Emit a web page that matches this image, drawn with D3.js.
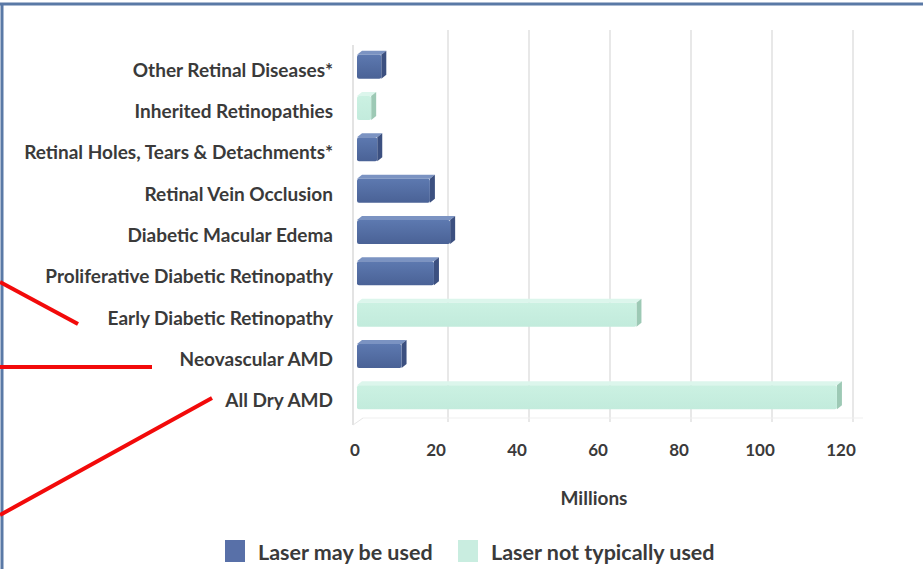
<!DOCTYPE html>
<html><head><meta charset="utf-8">
<script src="https://cdn.jsdelivr.net/npm/d3@7"></script>
<style>body{margin:0;background:#fff}svg{display:block}</style>
</head><body>
<svg id="c" width="923" height="569"></svg>
<script>
const categories = ["Other Retinal Diseases*","Inherited Retinopathies","Retinal Holes, Tears & Detachments*","Retinal Vein Occlusion","Diabetic Macular Edema","Proliferative Diabetic Retinopathy","Early Diabetic Retinopathy","Neovascular AMD","All Dry AMD"];
const values = [6, 3.5, 5, 18, 23, 19, 69, 11, 118.5];
const laserUsed = [true, false, true, true, true, true, false, true, false];
const tickValues = [0, 20, 40, 60, 80, 100, 120];
const seriesNames = ["Laser may be used", "Laser not typically used"];
const axisTitle = "Millions";

const svg = d3.select("#c");
const font = "Lato, 'Open Sans', sans-serif";
const x = d3.scaleLinear().domain([0,120]).range([357, 843]);
const y = d3.scaleBand().domain(categories).range([43, 415]).paddingInner(0.42).paddingOuter(0.21);
const dx = 10;

// frame
svg.append("line").attr("x1",0).attr("x2",923).attr("y1",4).attr("y2",4).attr("stroke","#5a79a6").attr("stroke-width",3);
svg.append("line").attr("x1",2).attr("x2",2).attr("y1",3).attr("y2",569).attr("stroke","#5a79a6").attr("stroke-width",3);

// back wall gridlines
svg.append("g").selectAll("line").data(tickValues.slice(1)).join("line")
  .attr("x1",d=>x(d)+dx).attr("x2",d=>x(d)+dx).attr("y1",30).attr("y2",422)
  .attr("stroke","#dcdcdc").attr("stroke-width",1.3);
// left axis
svg.append("line").attr("x1",353).attr("x2",353).attr("y1",45).attr("y2",425).attr("stroke","#d4d4d4").attr("stroke-width",1.3);
svg.append("line").attr("x1",353).attr("x2",363).attr("y1",425).attr("y2",418).attr("stroke","#e6e6e6");
svg.append("line").attr("x1",363).attr("x2",863).attr("y1",418).attr("y2",418).attr("stroke","#efefef");

const defs = svg.append("defs");
function grad(id, c1, c2){
  const g = defs.append("linearGradient").attr("id",id).attr("x1",0).attr("x2",0).attr("y1",0).attr("y2",1);
  g.append("stop").attr("offset","0").attr("stop-color",c1);
  g.append("stop").attr("offset","1").attr("stop-color",c2);
}
grad("gb","#5d79b0","#4a6296");
grad("gt","#cbf1e2","#c2ebdc");

const bars = svg.append("g").selectAll("g").data(categories.map((c,i)=>({c,v:values[i],u:laserUsed[i]}))).join("g");
const bh = y.bandwidth();
const sd = 5, sdy = -4;
bars.each(function(d){
  const g = d3.select(this);
  const x0 = x(0), x1 = x(d.v), y0 = y(d.c)+3, y1 = y0+bh;
  const front = d.u ? "url(#gb)" : "url(#gt)";
  const top = d.u ? "#7b93c2" : "#dcf6ec";
  const side = d.u ? "#3c5080" : "#9dc9b5";
  g.append("path").attr("d",`M${x0},${y0}L${x0+sd},${y0+sdy}L${x1+sd},${y0+sdy}L${x1},${y0}Z`).attr("fill",top);
  g.append("path").attr("d",`M${x1},${y0}L${x1+sd},${y0+sdy}L${x1+sd},${y1+sdy}L${x1},${y1}Z`).attr("fill",side);
  g.append("rect").attr("x",x0).attr("y",y0).attr("width",x1-x0).attr("height",bh).attr("fill",front).attr("rx",2);
});

// category labels
svg.append("g").selectAll("text").data(categories).join("text")
  .attr("x",333).attr("y",d=>y(d)+bh/2+8).attr("text-anchor","end").attr("dominant-baseline","middle")
  .attr("font-family",font).attr("font-weight","bold").attr("font-size",19).attr("fill","#3a3a3a").text(d=>d);

// x tick labels
svg.append("g").selectAll("text").data(tickValues).join("text")
  .attr("x",d=>x(d)-2).attr("y",452).attr("text-anchor","middle").attr("dominant-baseline","middle")
  .attr("font-family",font).attr("font-weight","bold").attr("font-size",17).attr("fill","#3a3a3a").text(d=>d);
svg.append("text").attr("x",594).attr("y",500).attr("text-anchor","middle").attr("dominant-baseline","middle")
  .attr("font-family",font).attr("font-weight","bold").attr("font-size",19).attr("fill","#3a3a3a").text(axisTitle);

// legend
const lg = svg.append("g");
const lx = [225, 458];
seriesNames.forEach((n,i)=>{
  lg.append("rect").attr("x",lx[i]).attr("y",540).attr("width",20).attr("height",22).attr("fill",i===0?"#5870a8":"#c9ede0");
  lg.append("text").attr("x",lx[i]+33).attr("y",554).attr("dominant-baseline","middle")
    .attr("font-family",font).attr("font-weight","bold").attr("font-size",21.5).attr("fill","#3a3a3a").text(n);
});

// red annotation lines
const red = [[0,282,78,324],[0,367,152,367],[0,515,212,398]];
svg.append("g").selectAll("line").data(red).join("line")
  .attr("x1",d=>d[0]).attr("y1",d=>d[1]).attr("x2",d=>d[2]).attr("y2",d=>d[3])
  .attr("stroke","#f20a0a").attr("stroke-width",4);
</script>
</body></html>
